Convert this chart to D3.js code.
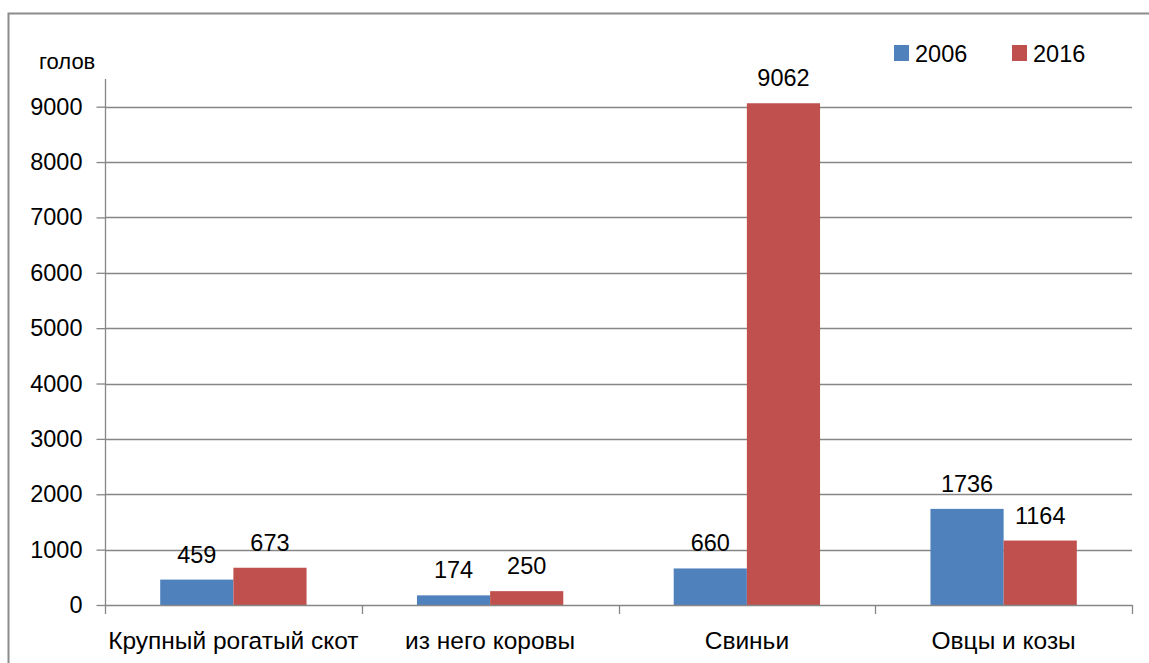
<!DOCTYPE html>
<html>
<head>
<meta charset="utf-8">
<script src="https://cdn.jsdelivr.net/npm/d3@7"></script>
<style>
  html, body { margin: 0; padding: 0; background: #fff; }
  svg { display: block; font-family: "Liberation Sans", Arial, sans-serif; }
</style>
</head>
<body>
<svg id="chart" width="1149" height="663"></svg>
<script>
const categories = ["Крупный рогатый скот", "из него коровы", "Свиньи", "Овцы и козы"];
const seriesNames = ["2006", "2016"];
const values2006 = [459, 174, 660, 1736];
const values2016 = [673, 250, 9062, 1164];
const yTicks = [0, 1000, 2000, 3000, 4000, 5000, 6000, 7000, 8000, 9000];
const yUnit = "голов";
const colors = ["#4F81BD", "#C0504D"];

(function () {
const series = [values2006, values2016];
const svg = d3.select("#chart");
const pLeft = 105, pRight = 1132, pTop = 79, pBottom = 605;
const gridColor = "#868686";
const fs = 23.5;

// outer frame
svg.append("rect").attr("x", 8.5).attr("y", 13.5).attr("width", 1200).attr("height", 700)
  .attr("fill", "none").attr("stroke", "#8c8c8c").attr("stroke-width", 2);

const x = d3.scaleBand().domain(categories).range([pLeft, pRight]).paddingInner(0).paddingOuter(0);
const y = d3.scaleLinear().domain([0, 9500]).range([pBottom, pTop]);
const groupW = x.bandwidth() * 0.57;
const xs = d3.scaleBand().domain(seriesNames).range([0, groupW]);

// gridlines
svg.append("g").selectAll("line").data(yTicks.filter(d => d > 0)).join("line")
  .attr("x1", pLeft).attr("x2", pRight)
  .attr("y1", d => Math.round(y(d)) + 0.5).attr("y2", d => Math.round(y(d)) + 0.5)
  .attr("stroke", gridColor).attr("stroke-width", 1.3);

// y axis
const yAxis = d3.axisLeft(y).tickValues(yTicks).tickSize(9).tickPadding(14).tickFormat(d3.format("d"));
const gy = svg.append("g").attr("transform", `translate(${pLeft + 0.5},0)`).call(yAxis);
gy.select(".domain").attr("stroke", gridColor).attr("stroke-width", 1.3).attr("d", `M0,${pTop}V${pBottom}`);
gy.selectAll(".tick line").attr("stroke", gridColor).attr("stroke-width", 1.3);
gy.selectAll(".tick text").attr("font-size", fs).attr("font-family", "Liberation Sans, Arial, sans-serif").attr("fill", "#000");

// bars
categories.forEach((c, i) => {
  const gx = x(c) + (x.bandwidth() - groupW) / 2;
  series.forEach((vals, s) => {
    svg.append("rect")
      .attr("x", gx + xs(seriesNames[s]))
      .attr("y", y(vals[i]))
      .attr("width", xs.bandwidth())
      .attr("height", y(0) - y(vals[i]))
      .attr("fill", colors[s]);
    svg.append("text")
      .attr("x", gx + xs(seriesNames[s]) + xs.bandwidth() / 2)
      .attr("y", y(vals[i]) - 17)
      .attr("text-anchor", "middle")
      .attr("font-size", fs)
      .text(vals[i]);
  });
});

// x axis
const xAxis = d3.axisBottom(x).tickSize(0).tickPadding(0);
const gxa = svg.append("g").attr("transform", `translate(0,${pBottom + 0.5})`).call(xAxis);
gxa.select(".domain").attr("stroke", gridColor).attr("stroke-width", 1.3).attr("d", `M${pLeft},0H${pRight}`);
gxa.selectAll(".tick text").attr("font-size", 24.5).attr("font-family", "Liberation Sans, Arial, sans-serif")
  .attr("fill", "#000").attr("dy", 0).attr("y", 43);
// category separator ticks
const seps = categories.map(c => x(c)).concat([pRight]);
svg.append("g").selectAll("line").data(seps).join("line")
  .attr("x1", d => Math.round(d) + 0.5).attr("x2", d => Math.round(d) + 0.5)
  .attr("y1", pBottom).attr("y2", pBottom + 9)
  .attr("stroke", gridColor).attr("stroke-width", 1.3);

// unit label
svg.append("text").attr("x", 39).attr("y", 69).attr("font-size", 22).text(yUnit);

// legend
const legend = svg.append("g");
const legX = [894, 1012];
seriesNames.forEach((n, i) => {
  legend.append("rect").attr("x", legX[i]).attr("y", 45).attr("width", 15).attr("height", 16).attr("fill", colors[i]);
  legend.append("text").attr("x", legX[i] + 21).attr("y", 62).attr("font-size", fs).text(n);
});
})();
</script>
</body>
</html>
